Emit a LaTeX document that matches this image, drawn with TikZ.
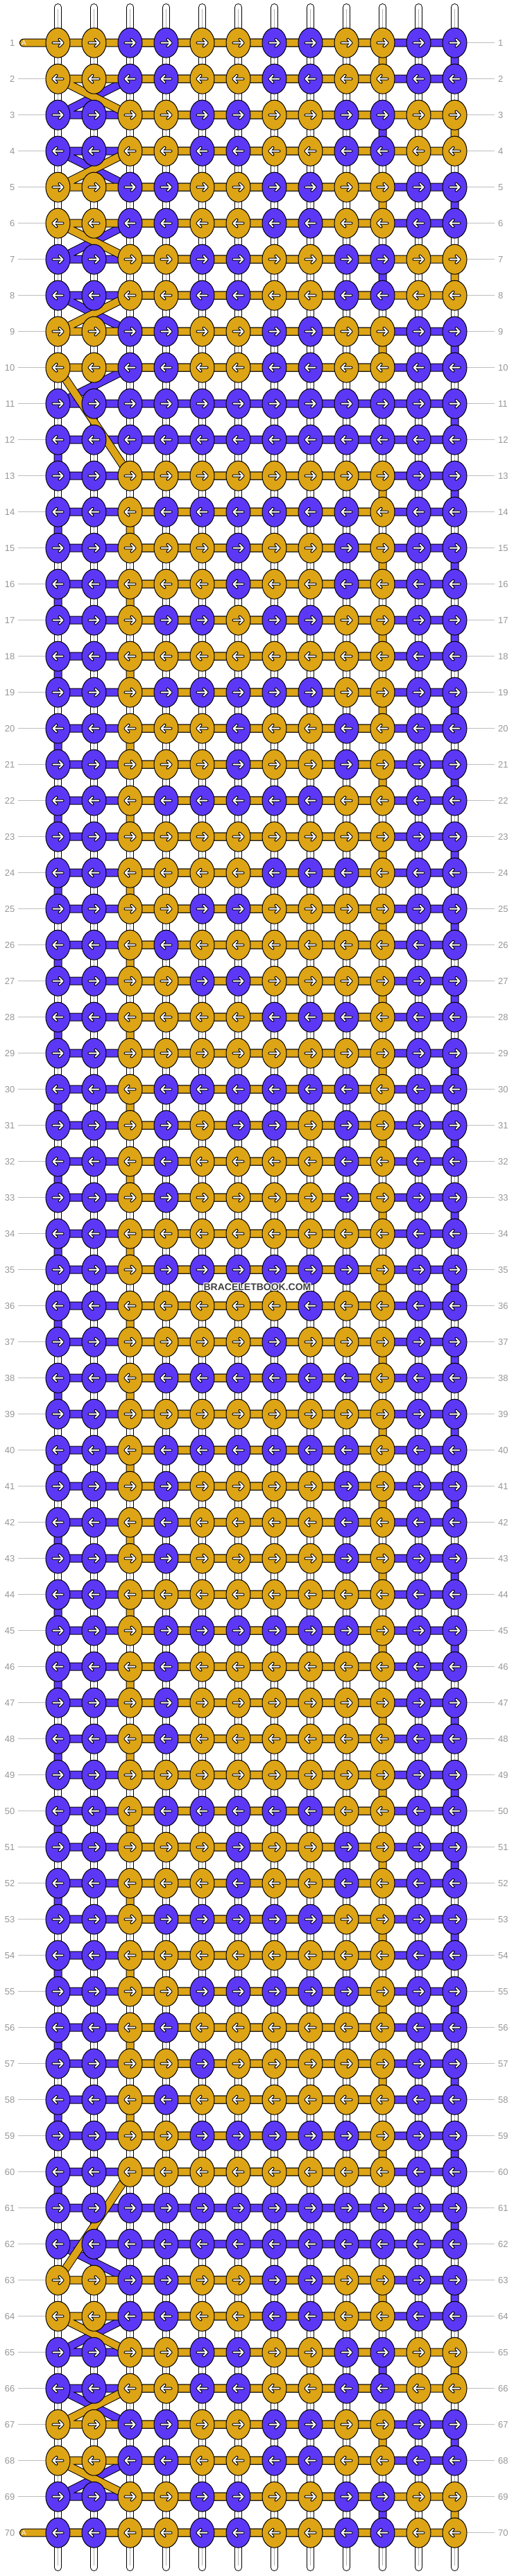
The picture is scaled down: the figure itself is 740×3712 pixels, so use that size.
\documentclass[tikz,border=0pt]{standalone}
\usepackage{fontspec}
\setmainfont{Liberation Sans}
\usetikzlibrary{shapes.geometric}

\definecolor{colY}{RGB}{221,164,22}
\definecolor{colB}{RGB}{92,56,246}
\definecolor{labgray}{RGB}{150,150,150}
\definecolor{linegray}{RGB}{190,190,190}
\definecolor{wmgray}{RGB}{64,64,64}

\tikzset{
  knot/.style={ellipse, draw=black, line width=1pt, minimum width=35pt, minimum height=43pt, inner sep=0pt},
  warp/.style={draw=black, double=white, double distance=9pt, line width=1pt, line cap=round},
  warpmid/.style={draw=black!30, line width=0.8pt},
  strand/.style={draw=black, double=#1, double distance=10pt, line width=1pt, line cap=round, line join=round},
  tick/.style={draw=linegray, line width=1pt},
  rowlab/.style={text=labgray, inner sep=0pt, font=\fontsize{13}{15}\selectfont},
  tag/.style={text=white, inner sep=0pt, font=\fontsize{10}{12}\selectfont},
  wm/.style={inner sep=0pt, font=\bfseries\fontsize{14}{16}\selectfont},
  arr/.pic={
    \draw[black, line width=4pt, line cap=round, line join=round] (-7,0) -- (7,0) (2,-5) -- (7,0) -- (2,5);
    \draw[white, line width=2pt, line cap=round, line join=round] (-7,0) -- (7,0) (2,-5) -- (7,0) -- (2,5);
  }
}

\begin{document}
\begin{tikzpicture}[x=1pt,y=-1pt]
\useasboundingbox (0,0) rectangle (740,3712);

% knot positions
\foreach \r in {1,...,70}
  \foreach \c in {1,...,12}
    \coordinate (p-\r-\c) at ({31.5+52*\c},{9.7+52*\r});

% white warp threads
\foreach \c in {1,...,12} {
  \coordinate (w-top-\c) at ({31.5+52*\c},10.5);
  \coordinate (w-bot-\c) at ({31.5+52*\c},3699.5);
  \draw[warp] (w-top-\c) -- (w-bot-\c);
  \draw[warpmid] ([yshift=-3pt]w-top-\c) -- ([yshift=3pt]w-bot-\c);
}

% working threads
\coordinate (tail-a) at (34,61.7);
\coordinate (tail-b) at (34,3649.7);
\draw[strand=colB] (p-1-3) -- (p-1-12) -- (p-2-12) -- (p-2-3) -- (p-3-1) -- (p-3-10) -- (p-4-10) -- (p-4-1)
  -- (p-5-3) -- (p-5-12) -- (p-6-12) -- (p-6-3) -- (p-7-1) -- (p-7-10) -- (p-8-10) -- (p-8-1)
  -- (p-9-3) -- (p-9-12) -- (p-10-12) -- (p-10-3)
  \foreach \r [evaluate=\r as \s using int(\r+1)] in {11,13,...,61} { -- (p-\r-1) -- (p-\r-12) -- (p-\s-12) -- (p-\s-1) }
  -- (p-63-3) -- (p-63-12) -- (p-64-12) -- (p-64-3) -- (p-65-1) -- (p-65-10) -- (p-66-10) -- (p-66-1)
  -- (p-67-3) -- (p-67-12) -- (p-68-12) -- (p-68-3) -- (p-69-1) -- (p-69-10) -- (p-70-10) -- (p-70-1);
\draw[strand=colY] (tail-a) -- (p-1-10) -- (p-2-10) -- (p-2-1) -- (p-3-3) -- (p-3-12) -- (p-4-12) -- (p-4-3)
  -- (p-5-1) -- (p-5-10) -- (p-6-10) -- (p-6-1) -- (p-7-3) -- (p-7-12) -- (p-8-12) -- (p-8-3)
  -- (p-9-1) -- (p-9-10) -- (p-10-10) -- (p-10-1)
  \foreach \r [evaluate=\r as \s using int(\r+1)] in {13,15,...,59} { -- (p-\r-3) -- (p-\r-10) -- (p-\s-10) -- (p-\s-3) }
  -- (p-63-1) -- (p-63-10) -- (p-64-10) -- (p-64-1) -- (p-65-3) -- (p-65-12) -- (p-66-12) -- (p-66-3)
  -- (p-67-1) -- (p-67-10) -- (p-68-10) -- (p-68-1) -- (p-69-3) -- (p-69-12) -- (p-70-12) -- (tail-b);
\node[tag] (tag-a) at (34.5,61.7) {A};
\node[tag] (tag-b) at (34.5,3649.7) {A};

% row ticks
\foreach \r in {2,...,69}
  \draw[tick] (26,{9.7+52*\r}) -- (66,{9.7+52*\r});
\foreach \r in {1,...,70}
  \draw[tick] (673,{9.7+52*\r}) -- (713,{9.7+52*\r});

% knots, row by row
\foreach \pat [count=\r] in {
  {Y,Y,B,B,Y,Y,B,B,Y,Y,B,B},{Y,Y,B,B,Y,Y,B,B,Y,Y,B,B},{B,B,Y,Y,B,B,Y,Y,B,B,Y,Y},{B,B,Y,Y,B,B,Y,Y,B,B,Y,Y},
  {Y,Y,B,B,Y,Y,B,B,Y,Y,B,B},{Y,Y,B,B,Y,Y,B,B,Y,Y,B,B},{B,B,Y,Y,B,B,Y,Y,B,B,Y,Y},{B,B,Y,Y,B,B,Y,Y,B,B,Y,Y},
  {Y,Y,B,B,Y,Y,B,B,Y,Y,B,B},{Y,Y,B,B,Y,Y,B,B,Y,Y,B,B},
  {B,B,B,B,B,B,B,B,B,B,B,B},{B,B,B,B,B,B,B,B,B,B,B,B},
  {B,B,Y,Y,Y,Y,Y,Y,Y,Y,B,B},{B,B,Y,B,B,B,B,B,B,Y,B,B},{B,B,Y,Y,Y,B,Y,Y,B,Y,B,B},{B,B,Y,Y,Y,B,Y,Y,B,Y,B,B},
  {B,B,Y,B,B,Y,B,B,Y,Y,B,B},{B,B,Y,Y,Y,Y,Y,Y,Y,Y,B,B},{B,B,Y,B,B,B,B,B,Y,Y,B,B},{B,B,Y,Y,Y,B,Y,Y,B,Y,B,B},
  {B,B,Y,Y,Y,B,Y,Y,B,Y,B,B},{B,B,Y,B,B,B,B,B,Y,Y,B,B},{B,B,Y,Y,Y,Y,Y,Y,Y,Y,B,B},{B,B,Y,Y,Y,Y,B,B,B,Y,B,B},
  {B,B,Y,Y,B,B,Y,Y,Y,Y,B,B},{B,B,Y,B,Y,Y,Y,Y,Y,Y,B,B},{B,B,Y,Y,B,B,Y,Y,Y,Y,B,B},{B,B,Y,Y,Y,Y,B,B,B,Y,B,B},
  {B,B,Y,Y,Y,Y,Y,Y,Y,Y,B,B},{B,B,Y,B,B,B,B,B,B,Y,B,B},{B,B,Y,B,Y,B,B,Y,B,Y,B,B},{B,B,Y,B,Y,Y,Y,Y,B,Y,B,B},
  {B,B,Y,B,Y,Y,Y,Y,B,Y,B,B},{B,B,Y,Y,Y,Y,Y,Y,Y,Y,B,B},{B,B,Y,B,B,B,B,B,B,Y,B,B},{B,B,Y,Y,Y,Y,Y,B,Y,Y,B,B},
  {B,B,Y,Y,Y,Y,B,Y,Y,Y,B,B},{B,B,Y,B,B,B,B,B,B,Y,B,B},{B,B,Y,Y,Y,Y,Y,Y,Y,Y,B,B},{B,B,Y,B,B,B,B,B,B,Y,B,B},
  {B,B,Y,B,Y,Y,Y,Y,B,Y,B,B},{B,B,Y,B,Y,Y,Y,Y,B,Y,B,B},{B,B,Y,B,Y,Y,Y,Y,B,Y,B,B},{B,B,Y,Y,Y,Y,Y,Y,Y,Y,B,B},
  {B,B,Y,B,B,B,B,B,B,Y,B,B},{B,B,Y,B,Y,Y,Y,Y,Y,Y,B,B},{B,B,Y,B,Y,Y,Y,Y,Y,Y,B,B},{B,B,Y,B,Y,Y,Y,Y,Y,Y,B,B},
  {B,B,Y,Y,Y,Y,Y,Y,Y,Y,B,B},{B,B,Y,B,B,B,B,B,Y,Y,B,B},{B,B,Y,Y,Y,B,Y,Y,B,Y,B,B},{B,B,Y,Y,Y,B,Y,Y,B,Y,B,B},
  {B,B,Y,B,B,B,B,B,Y,Y,B,B},{B,B,Y,Y,Y,Y,Y,Y,Y,Y,B,B},{B,B,Y,Y,B,B,B,B,B,Y,B,B},{B,B,Y,B,Y,Y,Y,Y,Y,Y,B,B},
  {B,B,Y,Y,B,Y,Y,Y,Y,Y,B,B},{B,B,Y,B,Y,Y,Y,Y,Y,Y,B,B},{B,B,Y,Y,B,B,B,B,B,Y,B,B},{B,B,Y,Y,Y,Y,Y,Y,Y,Y,B,B},
  {B,B,B,B,B,B,B,B,B,B,B,B},{B,B,B,B,B,B,B,B,B,B,B,B},
  {Y,Y,B,B,Y,Y,B,B,Y,Y,B,B},{Y,Y,B,B,Y,Y,B,B,Y,Y,B,B},{B,B,Y,Y,B,B,Y,Y,B,B,Y,Y},{B,B,Y,Y,B,B,Y,Y,B,B,Y,Y},
  {Y,Y,B,B,Y,Y,B,B,Y,Y,B,B},{Y,Y,B,B,Y,Y,B,B,Y,Y,B,B},{B,B,Y,Y,B,B,Y,Y,B,B,Y,Y},{B,B,Y,Y,B,B,Y,Y,B,B,Y,Y}} {
  \pgfmathtruncatemacro{\d}{1-2*mod(\r+1,2)}
  \foreach \k [count=\c] in \pat {
    \node[knot, fill=col\k] (k-\r-\c) at (p-\r-\c) {};
    \pic[xscale=\d] at (p-\r-\c) {arr};
  }
}

% row numbers
\foreach \r in {1,...,70} {
  \node[rowlab, anchor=east] (ll-\r) at (21.5,{9.7+52*\r}) {\r};
  \node[rowlab, anchor=west] (rl-\r) at (718,{9.7+52*\r}) {\r};
}

% watermark
\foreach \dx/\dy [count=\i] in {-1/-1,-1/0,-1/1,0/-1,0/1,1/-1,1/0,1/1}
  \node[wm, text=white] (halo-\i) at ({371+\dx},{1855+\dy}) {BRACELETBOOK.COM};
\node[wm, text=wmgray] (mark) at (371,1855) {BRACELETBOOK.COM};
\end{tikzpicture}
\end{document}
